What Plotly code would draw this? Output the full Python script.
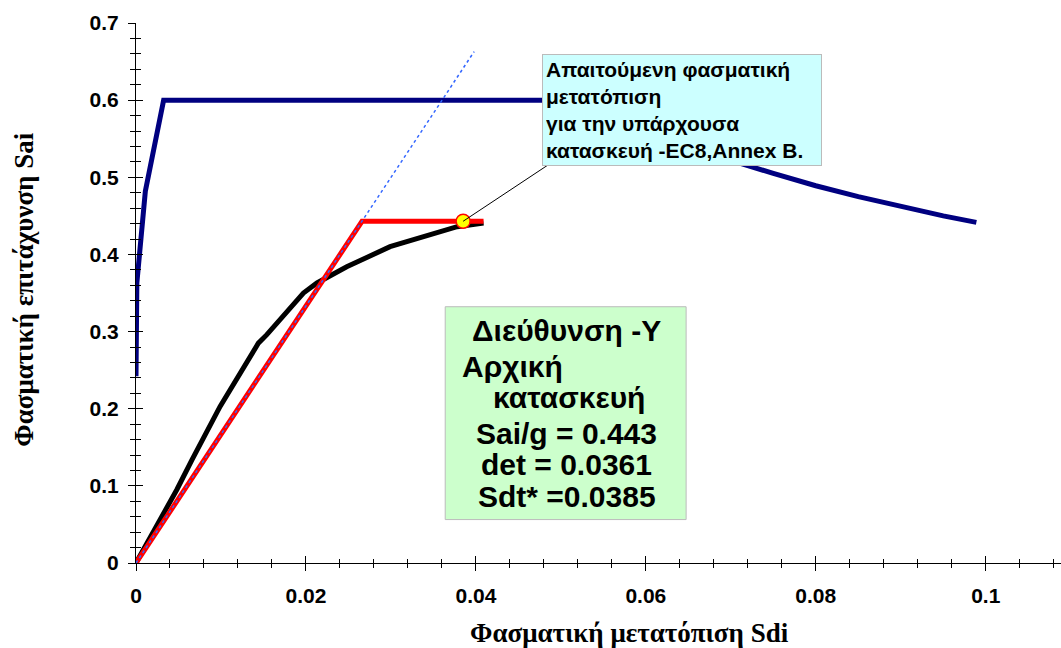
import plotly.graph_objects as go

# ---- data -------------------------------------------------------------
# Demand spectrum (ADRS)
demand_sd = [0.0, 0.0001, 0.0011, 0.00325, 0.0528, 0.056, 0.060, 0.065, 0.070,
             0.075, 0.080, 0.085, 0.090, 0.095, 0.0989]
demand_sa = [0.242, 0.363, 0.482, 0.600, 0.600, 0.583, 0.563, 0.541, 0.522,
             0.505, 0.489, 0.475, 0.462, 0.450, 0.4415]

# Capacity curve
capacity_sd = [0.0, 0.0048, 0.0066, 0.0099, 0.0144, 0.0154, 0.0197, 0.0213, 0.0248, 0.0299, 0.0378, 0.0409]
capacity_sa = [0.0, 0.095, 0.134, 0.203, 0.285, 0.296, 0.350, 0.363, 0.384, 0.410, 0.436, 0.4407]

# Bilinear idealisation
bilinear_sd = [0.0, 0.0266, 0.0409]
bilinear_sa = [0.0, 0.443, 0.443]

# Initial stiffness line
stiff_sd = [0.0, 0.0398]
stiff_sa = [0.0, 0.663]

# Performance point
SAI = 0.443
DET = 0.0361
SDT = 0.0385

X_RANGE = [0, 0.10886]
Y_RANGE = [0, 0.7]

SANS = "Liberation Sans, Arial, sans-serif"
SERIF = "Liberation Serif, Times New Roman, serif"

fig = go.Figure()
fig.add_trace(go.Scatter(x=demand_sd, y=demand_sa, mode="lines",
                         line=dict(color="#000080", width=5), hoverinfo="skip"))
fig.add_trace(go.Scatter(x=capacity_sd, y=capacity_sa, mode="lines",
                         line=dict(color="#000000", width=5), hoverinfo="skip"))
fig.add_trace(go.Scatter(x=bilinear_sd, y=bilinear_sa, mode="lines",
                         line=dict(color="#FF0000", width=5), hoverinfo="skip"))

# leader line from the performance point to the note
fig.add_shape(type="line", x0=SDT, y0=SAI, x1=0.0487, y1=0.5175,
              line=dict(color="black", width=1))

fig.add_trace(go.Scatter(x=[SDT], y=[SAI], mode="markers",
                         marker=dict(size=14, color="#FFFF00",
                                     line=dict(color="#FF0000", width=1.5)),
                         hoverinfo="skip"))

# the stiffness line lives on the overlay axes (same ranges), which carry
# the inner half of the tick marks
fig.add_trace(go.Scatter(x=stiff_sd, y=stiff_sa, mode="lines", xaxis="x2", yaxis="y2",
                         line=dict(color="#3366FF", width=1.5, dash="dot"), hoverinfo="skip"))

tickfont = dict(family=SANS, size=21, color="black", weight="bold")

common_x = dict(range=X_RANGE, dtick=0.02, tick0=0, showgrid=False, zeroline=False,
                ticklen=7, tickwidth=1, tickcolor="black",
                minor=dict(dtick=0.004, tick0=0, ticklen=4, tickwidth=1, tickcolor="black"))
common_y = dict(range=Y_RANGE, dtick=0.1, tick0=0, showgrid=False, zeroline=False,
                ticklen=7, tickwidth=1, tickcolor="black",
                minor=dict(dtick=0.02, tick0=0, ticklen=5, tickwidth=1, tickcolor="black"))

fig.update_layout(
    width=1061, height=648,
    margin=dict(l=136, r=0, t=23, b=84.5),
    paper_bgcolor="white", plot_bgcolor="white",
    showlegend=False,
    xaxis=dict(**common_x, ticks="outside", showline=True, linecolor="black", linewidth=1,
               tickfont=tickfont, ticklabelstandoff=7),
    yaxis=dict(**common_y, ticks="outside", showline=True, linecolor="black", linewidth=1,
               tickfont=tickfont, ticklabelstandoff=5),
    xaxis2=dict(**common_x, ticks="inside", overlaying="x", anchor="y2", side="bottom",
                showline=False, showticklabels=False),
    yaxis2=dict(**common_y, ticks="inside", overlaying="y", anchor="x2", side="left",
                showline=False, showticklabels=False),
)
fig.update_layout(xaxis2_minor_ticks="inside", yaxis2_minor_ticks="inside",
                  xaxis_minor_ticks="outside", yaxis_minor_ticks="outside")

# axis titles
fig.add_annotation(text="Φασματική μετατόπιση Sdi", xref="paper", yref="paper",
                   x=(629 - 136) / 925, y=-(634 - 563.5) / 540.5,
                   xanchor="center", yanchor="middle", showarrow=False,
                   font=dict(family=SERIF, size=27, color="black", weight="bold"))
fig.add_annotation(text="Φασματική επιτάχυνση Sai", xref="paper", yref="paper",
                   x=-(136 - 24) / 925, y=(563.5 - 290) / 540.5, textangle=-90,
                   xanchor="center", yanchor="middle", showarrow=False,
                   font=dict(family=SERIF, size=27, color="black", weight="bold"))

# note box
fig.add_annotation(
    text="Απαιτούμενη φασματική<br>μετατόπιση<br>για την υπάρχουσα<br>κατασκευή -EC8,Annex B.",
    xref="x", yref="y", x=0.0478, y=0.660, xanchor="left", yanchor="top",
    showarrow=False, align="left", valign="middle",
    width=272, height=104, borderpad=3,
    bgcolor="#CCFFFF", bordercolor="#BBBBBB", borderwidth=1,
    font=dict(family=SANS, size=21, color="black", weight="bold"))

# result box
fig.add_shape(type="rect", xref="x", yref="y", x0=0.03639, x1=0.06474, y0=0.0563, y1=0.3322,
              fillcolor="#CCFFCC", line=dict(color="#BBBBBB", width=1), layer="below")

result_font = dict(family=SANS, size=30, color="black", weight="bold")
result_lines = [
    ("Διεύθυνση -Y", 0.05068, 0.3012, "center"),
    ("Αρχική", 0.03815, 0.2545, "left"),
    ("κατασκευή", 0.05098, 0.2144, "center"),
    (f"Sai/g = {SAI:.3f}", 0.05068, 0.1677, "center"),
    (f"det = {DET:.4f}", 0.05068, 0.1276, "center"),
    (f"Sdt* ={SDT:.4f}", 0.05068, 0.0861, "center"),
]
for txt, lx, ly, anchor in result_lines:
    fig.add_annotation(text=txt, xref="x", yref="y", x=lx, y=ly,
                       xanchor=anchor, yanchor="middle", showarrow=False,
                       font=result_font)

fig.write_html("out.html")
